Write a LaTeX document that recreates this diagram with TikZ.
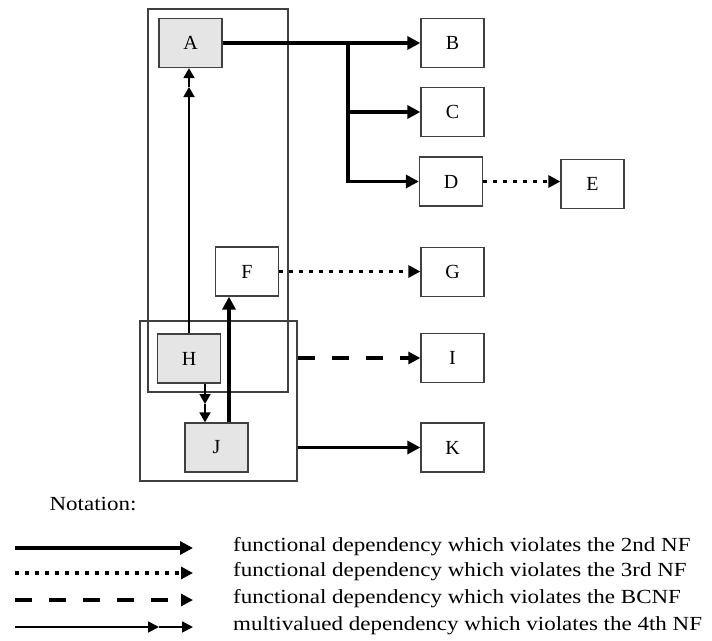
\documentclass[tikz,border=0pt]{standalone}
\usepackage{fontspec}
\setmainfont{Liberation Serif}
\usetikzlibrary{arrows.meta,calc}
\newcommand{\wtxt}[1]{\scalebox{1.15}[1]{#1}}
\begin{document}
\begin{tikzpicture}[x=1pt,y=-1pt,
  box/.style={draw=black!75, line width=1.3pt, minimum width=63pt, minimum height=49pt, inner sep=0pt, font=\fontsize{20}{24}\selectfont},
  gbox/.style={box, fill=black!10},
  group/.style={draw=black!75, line width=1.3pt, inner sep=0pt},
  thickarr/.style={line width=3.8pt, -{Triangle[length=13pt,width=13pt]}},
  dotarr/.style={line width=3.5pt, dash pattern=on 3.5pt off 6.5pt, -{Triangle[length=12pt,width=12pt]}},
  dasharr/.style={line width=4pt, dash pattern=on 17pt off 17pt, -{Triangle[length=12pt,width=12pt]}},
  mvarr/.style={line width=1.8pt, -{Triangle[length=10pt,width=11pt]}},
  legtext/.style={anchor=west, inner sep=0pt, font=\fontsize{20}{24}\selectfont},
]
\useasboundingbox (0,0) rectangle (712,640);
\fill[white] (0,0) rectangle (712,640);

% group boxes
\node[group, minimum width=140pt, minimum height=383pt] (up) at (218,200.5) {};
\node[group, minimum width=157pt, minimum height=160pt] (low) at (218.5,401) {};

% attribute boxes
\node[gbox] (A) at (190.5,43) {A};
\node[box]  (B) at (452.5,43) {B};
\node[box]  (C) at (452.5,112) {C};
\node[box]  (D) at (451,181.5) {D};
\node[box]  (E) at (592.5,184) {E};
\node[box]  (F) at (247,271.5) {F};
\node[box]  (G) at (452.5,272) {G};
\node[gbox] (H) at (189,358.5) {H};
\node[box]  (I) at (452.5,358) {I};
\node[gbox] (J) at (216.5,447.5) {J};
\node[box]  (K) at (452.5,447.5) {K};

% A -> B, C, D
\coordinate (br) at (348,43);
\draw[thickarr] (A.east) -- (B.west);
\draw[thickarr] (br) |- (C.west);
\draw[thickarr] (br) |- (D.west);
% D -> E
\draw[dotarr] (D.east) -- (D.east -| E.west);
% F -> G
\draw[dotarr] (F.east) -- (F.east -| G.west);
% HJ -> I, K
\draw[dasharr] (low.east |- I.west) -- (I.west);
\draw[thickarr] (low.east |- K.west) -- (K.west);
% H ->> A
\coordinate (ha) at (189,87);
\draw[mvarr] (H.north) -- (ha);
\draw[mvarr] (ha) -- (H.north |- A.south);
% H ->> J
\coordinate (hj) at ([xshift=16pt]H.south);
\coordinate (hjm) at (205,404);
\draw[mvarr] (hj) -- (hjm);
\draw[mvarr] (hjm) -- (hj |- J.north);
% J -> F
\coordinate (jf) at ([xshift=12.5pt]J.north);
\draw[thickarr] (jf) -- (jf |- F.south);

% legend
\node[inner sep=0pt, font=\fontsize{20}{24}\selectfont] (nota) at (93,504) {\wtxt{Notation:}};
\coordinate (l1s) at (15,548); \coordinate (l1e) at (193,548);
\coordinate (l2s) at (15,573); \coordinate (l2e) at (193,573);
\coordinate (l3s) at (15,600); \coordinate (l3e) at (193,600);
\coordinate (l4s) at (15,627); \coordinate (l4m) at (159,627); \coordinate (l4e) at (193,627);
\draw[thickarr] (l1s) -- (l1e);
\draw[dotarr] (l2s) -- (l2e);
\draw[dasharr] (l3s) -- (l3e);
\draw[mvarr, -{Triangle[length=11pt,width=11pt]}] (l4s) -- (l4m);
\draw[mvarr, -{Triangle[length=11pt,width=11pt]}] (l4m) -- (l4e);
\node[legtext] (t1) at (233,547) {\wtxt{functional dependency which violates the 2nd NF}};
\node[legtext] (t2) at (233,572) {\wtxt{functional dependency which violates the 3rd NF}};
\node[legtext] (t3) at (233,599) {\wtxt{functional dependency which violates the BCNF}};
\node[legtext] (t4) at (233,626) {\wtxt{multivalued dependency which violates the 4th NF}};
\end{tikzpicture}
\end{document}
